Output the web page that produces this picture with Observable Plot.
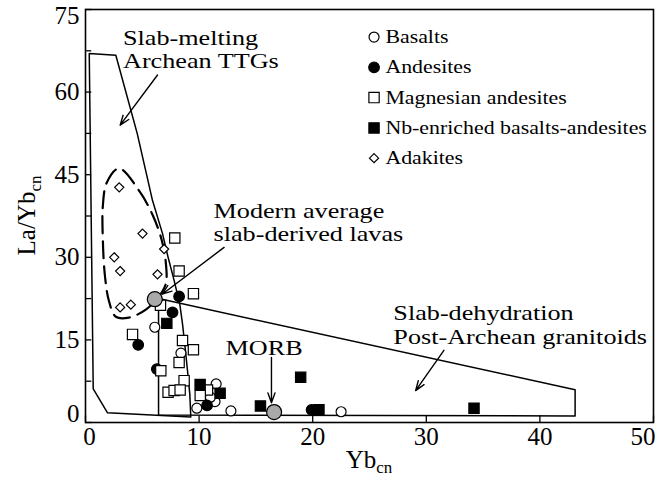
<!DOCTYPE html>
<html><head><meta charset="utf-8">
<script src="https://cdn.jsdelivr.net/npm/d3@7"></script>
<script src="https://cdn.jsdelivr.net/npm/@observablehq/plot@0.6"></script>
</head><body style="margin:0;background:#fff">
<div id="chart"></div>
<script>
// ---- axis ticks ----
const xTicks = [0, 10, 20, 30, 40, 50];
const yTicks = [0, 15, 30, 45, 60, 75];
const yMinorTicks = [7.5, 22.5, 37.5, 52.5, 67.5];

// ---- sample series [Yb_cn, La/Yb_cn] ----
const basalts = [[6.1,17.3],[8.4,12.6],[11.5,7.0],[11.4,3.8],[9.8,2.6],[12.8,2.1],[22.5,1.95],[11.0,4.6]];
const andesites = [[8.24,22.9],[7.66,20.0],[4.64,14.1],[6.28,9.7],[10.7,3.1],[19.9,2.3]];
const magnesianAndesites = [[7.86,33.5],[8.24,27.5],[9.5,23.4],[6.6,21.3],[4.14,16.0],[8.54,14.9],[9.5,13.2],[8.24,10.9],[6.63,9.4],[8.68,7.6],[7.27,5.5],[7.8,5.8],[8.33,5.9],[10.74,5.9],[10.1,4.9]];
const nbEnriched = [[7.16,18.0],[10.09,6.9],[11.85,5.3],[15.4,3.0],[18.94,8.2],[20.55,2.3],[34.2,2.6]];
const adakites = [[2.97,42.7],[5.02,34.3],[6.92,31.5],[2.53,30.0],[3.05,27.5],[6.34,26.9],[3.05,20.9],[3.99,21.4]];

// ---- reference compositions ----
const slabDerivedAverage = [[6.1,22.4]];
const morb = [[16.6,1.9]];

// ---- fields ----
const ttgField = [[0.33,67.0],[2.67,66.7],[4.55,52.5],[5.9,40.3],[6.78,34.3],[7.27,30.0],[7.8,25.8],[8.3,21.5],[8.54,17.9],[8.77,13.6],[8.98,9.4],[9.18,5.2],[9.27,1.0],[1.94,1.75],[0.68,6.1],[0.33,67.0]];
const dehydrationField = [[6.43,22.5],[43.1,5.95],[43.1,1.2],[6.43,1.35],[6.43,22.5]];
const adakiteField = [[2.94,46.15],[4.7,42.15],[5.93,37.6],[6.72,33.05],[7.07,29.05],[7.07,25.2],[6.46,22.9],[5.31,20.5],[3.82,19.05],[2.67,19.2],[2.06,22.1],[1.71,26.65],[1.53,33.0],[1.53,39.4],[1.88,43.6]];

// ---- legend & annotations ----
const legendLabels = ["Basalts","Andesites","Magnesian andesites","Nb-enriched basalts-andesites","Adakites"];
const annotationTexts = ["Slab-melting\nArchean TTGs","Modern average\nslab-derived lavas","Slab-dehydration\nPost-Archean granitoids"];
const annotationAt = [[3.3,64.3],[11.27,32.9],[27.1,14.3]];
const morbLabel = ["MORB"];
const morbLabelAt = [[15.72,12.3]];
const arrowSegments = [[6.34,63.1,3.05,54.0],[12.2,31.8,6.75,23.3],[31.55,13.1,29.06,5.8],[16.37,11.8,16.37,3.6]];

const FONT = "Liberation Serif";
const P = a => a.map(([x, y]) => ({x, y}));

const series = [
  {data: basalts, symbol: "circle", r: 5, fill: "white"},
  {data: andesites, symbol: "circle", r: 5.3, fill: "black"},
  {data: magnesianAndesites, symbol: "square", r: 5.8, fill: "white"},
  {data: nbEnriched, symbol: "square", r: 5.8, fill: "black"},
  {data: adakites, symbol: "diamond2", r: 4.1, fill: "white"}
];

const legendX = 25.4, legendTextX = 26.4, legendTop = 70.0, legendStep = 5.5;
const T = {fontFamily: FONT};

const marks = [
  Plot.frame({stroke: "black", strokeWidth: 1.6}),
  Plot.ruleY([...yTicks, ...yMinorTicks], {y: d => d, x1: 0, x2: 0.55, stroke: "black", strokeWidth: 1.3}),
  Plot.ruleX(xTicks, {x: d => d, y1: 0, y2: 1.2, stroke: "black", strokeWidth: 1.3}),
  Plot.text(yTicks.filter(d => d > 0 && d < 75), {...T, x: 0, y: d => d, text: d => String(d), textAnchor: "end", dx: -6, fontSize: 25}),
  Plot.text(yTicks.filter(d => d === 0), {...T, x: 0, y: d => d, text: d => String(d), textAnchor: "end", dx: -6, dy: -9, fontSize: 25}),
  Plot.text(yTicks.filter(d => d === 75), {...T, x: 0, y: d => d, text: d => String(d), textAnchor: "end", dx: -6, dy: 6, fontSize: 25}),
  Plot.text(xTicks.filter(d => d > 0 && d < 50), {...T, x: d => d, y: 0, text: d => String(d), lineAnchor: "top", dy: 5, fontSize: 25}),
  Plot.text(xTicks.filter(d => d === 0), {...T, x: d => d, y: 0, text: d => String(d), lineAnchor: "top", dy: 5, dx: 4, fontSize: 25}),
  Plot.text(xTicks.filter(d => d === 50), {...T, x: d => d, y: 0, text: d => String(d), lineAnchor: "top", dy: 5, dx: 2, textAnchor: "end", fontSize: 25}),
  Plot.line(P(ttgField), {x: "x", y: "y", stroke: "black", strokeWidth: 1.5}),
  Plot.line(P(dehydrationField), {x: "x", y: "y", stroke: "black", strokeWidth: 1.5}),
  Plot.line(P(adakiteField), {x: "x", y: "y", curve: "catmull-rom-closed", stroke: "black", strokeWidth: 2.2, strokeDasharray: "17,8"}),
  ...series.map(s => Plot.dot(P(s.data), {x: "x", y: "y", symbol: s.symbol, r: s.r, fill: s.fill, stroke: "black", strokeWidth: 1.2})),
  Plot.dot(P(slabDerivedAverage), {x: "x", y: "y", r: 7.5, fill: "#a9a9a9", stroke: "black", strokeWidth: 1.2}),
  Plot.dot(P(morb), {x: "x", y: "y", r: 7.5, fill: "#a9a9a9", stroke: "black", strokeWidth: 1.2}),
  Plot.arrow(arrowSegments, {x1: d => d[0], y1: d => d[1], x2: d => d[2], y2: d => d[3], stroke: "black", strokeWidth: 1.4, headLength: 11, headAngle: 40}),
  Plot.text(annotationTexts, {...T, x: (d, i) => annotationAt[i][0], y: (d, i) => annotationAt[i][1], text: d => d, textAnchor: "start", lineAnchor: "bottom", lineHeight: 1.08, fontSize: 22}),
  Plot.text(morbLabel, {...T, x: (d, i) => morbLabelAt[i][0], y: (d, i) => morbLabelAt[i][1], text: d => d, textAnchor: "middle", lineAnchor: "bottom", fontSize: 22}),
  ...series.map((s, i) => Plot.dot([legendLabels[i]], {x: legendX, y: legendTop - i * legendStep, symbol: s.symbol, r: s.r, fill: s.fill, stroke: "black", strokeWidth: 1.2})),
  Plot.text(legendLabels, {...T, x: legendTextX, y: (d, i) => legendTop - i * legendStep, text: d => d, textAnchor: "start", fontSize: 19})
];

const chart = Plot.plot({
  width: 655, height: 478,
  marginLeft: 85, marginRight: 2, marginTop: 9, marginBottom: 56,
  x: {domain: [0, 50], axis: null},
  y: {domain: [0, 75], axis: null},
  style: {fontFamily: FONT, background: "white", color: "black", overflow: "visible"},
  marks
});
document.getElementById("chart").appendChild(chart);

const svg = d3.select(chart);
// horizontal stretch of the typeset labels about their anchor point (as in the original print)
const stretch = new Map();
legendLabels.forEach(s => stretch.set(s, 1.15));
[...annotationTexts, ...morbLabel].forEach(s => stretch.set(s.replace(/\n/g, ""), 1.19));
svg.selectAll("text").each(function() {
  const k = stretch.get(this.textContent.trim());
  if (!k) return;
  const x0 = +(this.getAttribute("x") || 0);
  const t = this.getAttribute("transform") || "";
  this.setAttribute("transform", `${t} translate(${x0},0) scale(${k},1) translate(${-x0},0)`.trim());
});

// axis titles with subscripts
const xs = chart.scale("x"), ys = chart.scale("y");
const xMid = (xs.range[0] + xs.range[1]) / 2, yMid = (ys.range[0] + ys.range[1]) / 2;
const xt = svg.append("text").attr("x", xMid).attr("y", 468).attr("text-anchor", "middle")
  .attr("font-family", FONT).attr("font-size", 25).attr("fill", "black");
xt.append("tspan").text("Yb");
xt.append("tspan").attr("dy", 5).attr("font-size", 17).text("cn");
const yt = svg.append("text").attr("transform", `translate(35,${yMid}) rotate(-90)`).attr("text-anchor", "middle")
  .attr("font-family", FONT).attr("font-size", 25).attr("fill", "black");
yt.append("tspan").text("La/Yb");
yt.append("tspan").attr("dy", 6).attr("font-size", 17).text("cn");
svg.selectAll("text").attr("font-family", FONT);
</script></body></html>
